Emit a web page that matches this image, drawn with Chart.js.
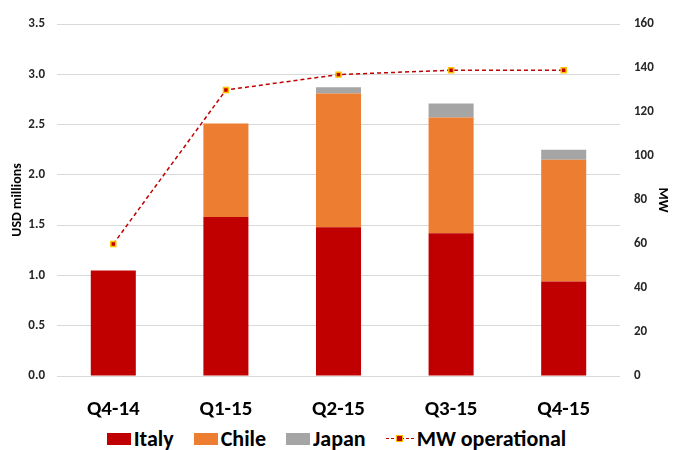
<!DOCTYPE html>
<html lang="en">
<head>
    <meta charset="UTF-8">
    <title>Revenue by country and MW operational</title>
    <style>
        body {
            margin: 0;
            background: #fff;
            font-family: Carlito, Calibri, Lato, sans-serif;
        }
        #wrap {
            position: relative;
            width: 673px;
            height: 450px;
        }
        #chartBox {
            position: absolute;
            left: 0;
            top: 0;
            width: 673px;
            height: 422px;
        }
        #legend {
            position: absolute;
            left: 0;
            top: 425px;
            width: 673px;
            display: flex;
            justify-content: center;
            align-items: center;
            font-weight: 900;
            font-size: 22px;
            color: #000;
        }
        .item {
            display: flex;
            align-items: center;
            margin: 0 10px;
        }
        .swatch {
            width: 24px;
            height: 12px;
            margin-right: 3px;
        }
        .lineSwatch {
            position: relative;
            width: 28px;
            height: 12px;
            margin-right: 3px;
        }
        .lineSwatch .dash {
            position: absolute;
            left: 0;
            right: 0;
            top: 5px;
            border-top: 1.5px dashed #C00000;
        }
        .lineSwatch .mark {
            position: absolute;
            left: 10px;
            top: 2px;
            width: 5px;
            height: 5px;
            background: #C00000;
            border: 1.5px solid #FFC000;
        }
    </style>
    <script src="https://cdn.jsdelivr.net/npm/chart.js"></script>
</head>
<body>
<div id="wrap">
    <div id="chartBox"><canvas id="mixChart"></canvas></div>
    <div id="legend"></div>
</div>

<script>
    // Quarterly revenue split by country (USD millions) and MW operational
    const quarters = ['Q4-14', 'Q1-15', 'Q2-15', 'Q3-15', 'Q4-15'];
    const italy = [1.05, 1.58, 1.48, 1.42, 0.94];
    const chile = [0, 0.93, 1.33, 1.15, 1.21];
    const japan = [0, 0, 0.06, 0.14, 0.10];
    const mwOperational = [60, 130, 137, 139, 139];

    const FONT = 'Carlito, Calibri, Lato, sans-serif';

    const barSets = [
        { label: 'Italy', data: italy, color: '#C00000' },
        { label: 'Chile', data: chile, color: '#ED7D31' },
        { label: 'Japan', data: japan, color: '#A5A5A5' }
    ];

    const datasets = barSets.map(s => ({
        type: 'bar',
        label: s.label,
        data: s.data,
        backgroundColor: s.color,
        yAxisID: 'y',
        stack: 'rev',
        barPercentage: 0.4,
        categoryPercentage: 1.0,
        order: 2
    }));

    datasets.push({
        type: 'line',
        label: 'MW operational',
        data: mwOperational,
        yAxisID: 'y1',
        borderColor: '#C00000',
        borderWidth: 1.5,
        borderDash: [4, 3],
        pointStyle: 'rect',
        pointRadius: 3.5,
        pointBackgroundColor: '#C00000',
        pointBorderColor: '#FFC000',
        pointBorderWidth: 1.5,
        fill: false,
        tension: 0,
        order: 1
    });

    const ctx = document.getElementById('mixChart').getContext('2d');
    new Chart(ctx, {
        data: { labels: quarters, datasets: datasets },
        options: {
            responsive: true,
            maintainAspectRatio: false,
            animation: false,
            layout: { padding: { top: 24, left: 0, right: 0, bottom: 0 } },
            plugins: {
                legend: { display: false },
                tooltip: { enabled: false }
            },
            scales: {
                x: {
                    stacked: true,
                    grid: { display: false },
                    border: { display: false },
                    ticks: {
                        color: '#000',
                        padding: 13,
                        font: { family: FONT, size: 21, weight: 900 }
                    },
                    afterFit: s => { s.height = 46; }
                },
                y: {
                    stacked: true,
                    position: 'left',
                    min: 0,
                    max: 3.5,
                    ticks: {
                        stepSize: 0.5,
                        padding: 12,
                        color: '#262626',
                        font: { family: FONT, size: 13, weight: 'bold' },
                        callback: v => v.toFixed(1)
                    },
                    grid: { color: '#D9D9D9', lineWidth: 1, drawTicks: false },
                    border: { display: false },
                    title: {
                        display: true,
                        text: 'USD millions',
                        color: '#000',
                        padding: { top: 9, bottom: 0 },
                        font: { family: FONT, size: 14, weight: 'bold' }
                    },
                    afterFit: s => { s.width = 57; }
                },
                y1: {
                    position: 'right',
                    min: 0,
                    max: 160,
                    ticks: {
                        stepSize: 20,
                        padding: 14,
                        color: '#262626',
                        font: { family: FONT, size: 13, weight: 'bold' }
                    },
                    grid: { display: false, drawTicks: false },
                    border: { display: false },
                    title: {
                        display: true,
                        text: 'MW',
                        color: '#000',
                        padding: { top: 2, bottom: 0 },
                        font: { family: FONT, size: 14, weight: 'bold' }
                    },
                    afterFit: s => { s.width = 53; }
                }
            }
        }
    });

    // Legend row underneath the chart
    const legend = document.getElementById('legend');
    barSets.forEach(s => {
        const item = document.createElement('div');
        item.className = 'item';
        item.innerHTML = '<span class="swatch" style="background:' + s.color + '"></span>' + s.label;
        legend.appendChild(item);
    });
    const lineItem = document.createElement('div');
    lineItem.className = 'item';
    lineItem.innerHTML = '<span class="lineSwatch"><span class="dash"></span><span class="mark"></span></span>MW operational';
    legend.appendChild(lineItem);
</script>
</body>
</html>
